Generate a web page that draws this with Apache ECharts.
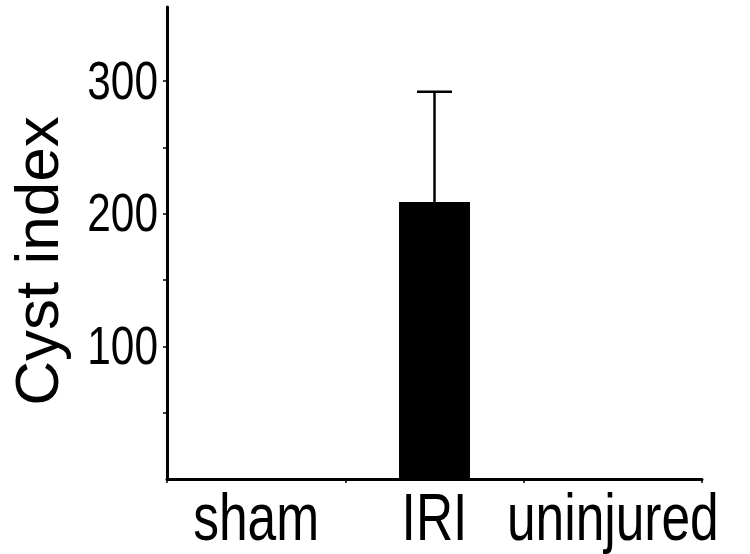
<!DOCTYPE html>
<html><head><meta charset="utf-8">
<script src="https://cdn.jsdelivr.net/npm/echarts@6/dist/echarts.min.js"></script>
<style>html,body{margin:0;padding:0;background:#fff}#c{width:750px;height:554px}</style>
</head><body><div id="c"></div>
<script>
const categories = ['sham', 'IRI', 'uninjured'];
const means = [null, 209, null];
const errUpper = [null, 292, null];
const yTicks = [50, 100, 150, 200, 250, 300];
const yLabels = [100, 200, 300];
const yName = 'Cyst index';

const chart = echarts.init(document.getElementById('c'));
const font = '"Liberation Sans", Arial, sans-serif';
chart.setOption({
  animation: false,
  backgroundColor: '#fff',
  grid: { left: 167, right: 48, top: 7, bottom: 75, outerBoundsMode: 'none', containLabel: false },
  xAxis: {
    type: 'category', data: categories,
    axisLine: { lineStyle: { color: '#000', width: 3 } },
    axisTick: { show: true, length: 4, lineStyle: { color: '#000', width: 1.5 } },
    axisLabel: { show: false }
  },
  yAxis: {
    type: 'value', min: 0, max: 356, interval: 50,
    name: yName, nameLocation: 'middle', nameGap: 95,
    nameTextStyle: { color: '#000', fontSize: 62, fontFamily: font, padding: [0, 36, 0, 0] },
    splitLine: { show: false },
    axisLine: { show: true, lineStyle: { color: '#000', width: 3 } },
    axisTick: { show: true, length: 4, customValues: yTicks, lineStyle: { color: '#000', width: 1.5 } },
    axisLabel: { show: false }
  },
  series: [
    {
      type: 'bar', data: means, barWidth: 71,
      itemStyle: { color: '#000' }
    },
    {
      type: 'custom',
      data: categories.map((c, i) => [i, means[i], errUpper[i]]).filter(d => d[1] != null),
      renderItem: function (params, api) {
        const x = api.value(0);
        const base = api.coord([x, api.value(1)]);
        const top = api.coord([x, api.value(2)]);
        const half = 17.5;
        const style = { stroke: '#000', lineWidth: 2.5 };
        return {
          type: 'group',
          children: [
            { type: 'line', shape: { x1: base[0], y1: base[1], x2: top[0], y2: top[1] }, style },
            { type: 'line', shape: { x1: top[0] - half, y1: top[1], x2: top[0] + half, y2: top[1] }, style }
          ]
        };
      },
      z: 3
    }
  ]
});

// Condensed-looking tick labels: real text placed through the chart's own scales, squeezed horizontally
const yZero = chart.convertToPixel({ yAxisIndex: 0 }, 0);
const graphics = [];
categories.forEach((c) => {
  const px = chart.convertToPixel({ xAxisIndex: 0 }, c);
  graphics.push({
    type: 'text', x: px, y: yZero + 10, scaleX: 0.78, silent: true,
    style: { text: c, font: '66px ' + font, fill: '#000', textAlign: 'center', textVerticalAlign: 'top' }
  });
});
yLabels.forEach(v => {
  const py = chart.convertToPixel({ yAxisIndex: 0 }, v);
  graphics.push({
    type: 'text', x: 158, y: py + 3, scaleX: 0.8, silent: true,
    style: { text: String(v), font: '53px ' + font, fill: '#000', textAlign: 'right', textVerticalAlign: 'middle' }
  });
});
chart.setOption({ graphic: graphics });
</script>
</body></html>
